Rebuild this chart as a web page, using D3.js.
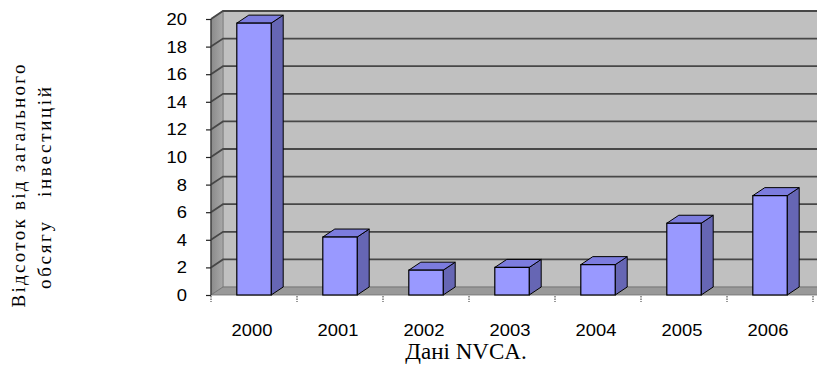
<!DOCTYPE html>
<html>
<head>
<meta charset="utf-8">
<script src="https://cdn.jsdelivr.net/npm/d3@7"></script>
<style>
  html, body { margin: 0; padding: 0; background: #fff; }
  svg { display: block; }
</style>
</head>
<body>
<svg id="chart" width="817" height="367"></svg>
<script>
// Share of total investment by year (NVCA data), %
const years = ["2000", "2001", "2002", "2003", "2004", "2005", "2006"];
const shares = [19.7, 4.2, 1.8, 2.0, 2.2, 5.2, 7.2];
const yTicks = [0, 2, 4, 6, 8, 10, 12, 14, 16, 18, 20];
const yTitleLines = ["Відсоток від загального", "обсягу   інвестицій"];
const caption = "Дані NVCA.";

const svg = d3.select("#chart");

// front plane of the 3D box
const x0 = 211, x1 = 813, yBottom = 295, yTop = 19;
// depth offset of the back wall
const dx = 12, dy = -8;

const x = d3.scaleBand().domain(years).range([x0, x1])
  .paddingInner(0.6).paddingOuter(0.3);
const xCat = d3.scaleBand().domain(years).range([x0, x1]);
const y = d3.scaleLinear().domain([0, 20]).range([yBottom, yTop]);

// back wall
svg.append("rect")
  .attr("x", x0 + dx).attr("y", y(20) + dy)
  .attr("width", 830 - x0 - dx).attr("height", y(0) - y(20))
  .attr("fill", "#c0c0c0").attr("stroke", "#9a9a9a").attr("stroke-width", 1);

// left side wall
const sideGrad = svg.append("defs").append("linearGradient")
  .attr("id", "side").attr("x1", 0).attr("x2", 1).attr("y1", 0).attr("y2", 0);
sideGrad.append("stop").attr("offset", 0).attr("stop-color", "#8a8a8a");
sideGrad.append("stop").attr("offset", 1).attr("stop-color", "#a8a8a8");
svg.append("path")
  .attr("d", `M${x0},${y(0)} L${x0},${y(20)} L${x0 + dx},${y(20) + dy} L${x0 + dx},${y(0) + dy} Z`)
  .attr("fill", "url(#side)").attr("stroke", "#777").attr("stroke-width", 0.8);

// floor
svg.append("path")
  .attr("d", `M${x0},${y(0)} L${x0 + dx},${y(0) + dy} L830,${y(0) + dy} L830,${y(0)} Z`)
  .attr("fill", "#999999").attr("stroke", "#6e6e6e").attr("stroke-width", 0.8);

// gridlines: across the side wall and the back wall
const grid = svg.append("g");
yTicks.filter(t => t > 0).forEach(t => {
  grid.append("path")
    .attr("d", `M${x0},${y(t)} L${x0 + dx},${y(t) + dy} L830,${y(t) + dy}`)
    .attr("fill", "none").attr("stroke", "#474747").attr("stroke-width", 1.8);
});

// value axis line and ticks
svg.append("line")
  .attr("x1", x0).attr("x2", x0).attr("y1", y(0)).attr("y2", y(20))
  .attr("stroke", "#333").attr("stroke-width", 1.2);
const yAxis = d3.axisLeft(y).tickValues(yTicks).tickSize(5).tickPadding(0).tickFormat(() => "");
svg.append("g").attr("transform", `translate(${x0},0)`).call(yAxis)
  .call(g => g.select(".domain").remove())
  .call(g => g.selectAll("line").attr("stroke", "#222").attr("stroke-width", 1.2));

// value labels, slightly wide like the original's font
svg.append("g").selectAll("text").data(yTicks).join("text")
  .attr("transform", d => `translate(187,${y(d) + 6}) scale(1.15,1)`)
  .attr("text-anchor", "end")
  .attr("font-family", "Liberation Sans, Arial, sans-serif")
  .attr("font-size", 16)
  .attr("fill", "#000")
  .text(d => d);

// category ticks below the floor
const cats = years.map(d => xCat(d)).concat([x1]);
svg.append("g").selectAll("line").data(cats).join("line")
  .attr("x1", d => d).attr("x2", d => d)
  .attr("y1", yBottom + 1).attr("y2", yBottom + 7)
  .attr("stroke", "#333").attr("stroke-width", 1)
  .attr("stroke-dasharray", "1.5,1");

// 3D bars
const bars = svg.append("g").selectAll("g").data(years.map((yr, i) => ({ yr, v: shares[i] }))).join("g");
bars.each(function (d) {
  const g = d3.select(this);
  const bx = x(d.yr), bw = x.bandwidth(), top = y(d.v), base = y(0);
  // side face
  g.append("path")
    .attr("d", `M${bx + bw},${base} L${bx + bw},${top} L${bx + bw + dx},${top + dy} L${bx + bw + dx},${base + dy} Z`)
    .attr("fill", "#6666b4").attr("stroke", "#000").attr("stroke-width", 1).attr("stroke-linejoin", "round");
  // top face
  g.append("path")
    .attr("d", `M${bx},${top} L${bx + dx},${top + dy} L${bx + bw + dx},${top + dy} L${bx + bw},${top} Z`)
    .attr("fill", "#7c7cde").attr("stroke", "#000").attr("stroke-width", 1).attr("stroke-linejoin", "round");
  // front face
  g.append("rect")
    .attr("x", bx).attr("y", top).attr("width", bw).attr("height", base - top)
    .attr("fill", "#9999ff").attr("stroke", "#000").attr("stroke-width", 1.2);
});

// category labels
svg.append("g").selectAll("text").data(years).join("text")
  .attr("transform", d => `translate(${xCat(d) + xCat.bandwidth() / 2 - 2},336) scale(1.08,1)`)
  .attr("text-anchor", "middle")
  .attr("font-family", "Liberation Sans, Arial, sans-serif")
  .attr("font-size", 17)
  .attr("fill", "#000")
  .text(d => d);

// caption
svg.append("text")
  .attr("x", 466).attr("y", 359)
  .attr("text-anchor", "middle")
  .attr("font-family", "Liberation Serif, Times New Roman, serif")
  .attr("font-size", 23)
  .attr("fill", "#000")
  .text(caption);

// rotated axis title, two lines, spread out
const titleG = svg.append("g").attr("transform", "translate(0,186) rotate(-90)");
titleG.append("text")
  .attr("x", 0).attr("y", 25)
  .attr("text-anchor", "middle")
  .attr("font-family", "Liberation Serif, Times New Roman, serif")
  .attr("font-size", 19)
  .attr("textLength", 243).attr("lengthAdjust", "spacing")
  .attr("fill", "#000")
  .text(yTitleLines[0]);
titleG.append("text")
  .attr("x", -2).attr("y", 51)
  .attr("text-anchor", "middle")
  .attr("font-family", "Liberation Serif, Times New Roman, serif")
  .attr("font-size", 19)
  .attr("textLength", 202).attr("lengthAdjust", "spacing")
  .style("white-space", "pre")
  .attr("fill", "#000")
  .text(yTitleLines[1]);
</script>
</body>
</html>
